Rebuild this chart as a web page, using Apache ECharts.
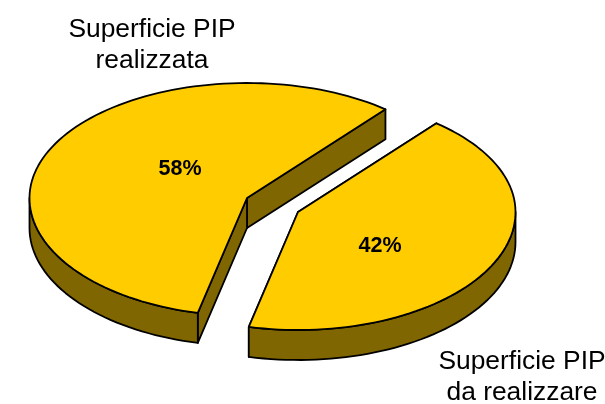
<!DOCTYPE html>
<html>
<head>
<meta charset="utf-8">
<script src="https://cdn.jsdelivr.net/npm/echarts@6/dist/echarts.min.js"></script>
<style>
html, body { margin: 0; padding: 0; background: #fff; }
#main { width: 605px; height: 404px; }
</style>
</head>
<body>
<div id="main"></div>
<script>
var categories = ['Superficie PIP\nrealizzata', 'Superficie PIP\nda realizzare'];
var values = [58, 42];

// layout of the flattened pie, per slice
var centers = [[247, 198], [298, 212]];
var percentPos = [[180, 168], [380, 245]];
var namePos = [[152, 45], [522, 377]];
var rx = 217.5, ryBack = 115, ryFront = 118, depth = 30;
var startAngle = 46;
var tilt = 1.17; // the 3d view squeezes angles a bit

var topColor = '#ffcc00';
var sideColor = '#806600';

var total = values.reduce(function (a, b) { return a + b; }, 0);

function tilted(deg) {
	var a = deg * Math.PI / 180;
	var t = Math.atan2(tilt * Math.sin(a), Math.cos(a)) * 180 / Math.PI;
	return t + 360 * Math.round((deg - t) / 360);
}

function arcPoints(c, from, to, dy) {
	var pts = [];
	var steps = Math.max(2, Math.ceil(Math.abs(to - from) / 2));
	for (var i = 0; i <= steps; i++) {
		var a = (from + (to - from) * i / steps) * Math.PI / 180;
		var s = Math.sin(a);
		pts.push([c[0] + rx * Math.cos(a), c[1] - (s > 0 ? ryBack : ryFront) * s + dy]);
	}
	return pts;
}

function wall(pts) {
	return {
		type: 'polygon',
		shape: { points: pts },
		style: { fill: sideColor, stroke: '#000', lineWidth: 1.8, lineJoin: 'round' }
	};
}

function renderSlice(params, api) {
	var idx = params.dataIndex;
	var c = centers[idx];
	var before = 0;
	for (var i = 0; i < idx; i++) before += values[i];
	var a0 = tilted(startAngle + before / total * 360);
	var a1 = tilted(startAngle + (before + api.value(1)) / total * 360);
	var children = [];

	// cut faces go down from the two straight edges
	[a0, a1].forEach(function (a) {
		var p = arcPoints(c, a, a, 0)[0];
		children.push(wall([c, p, [p[0], p[1] + depth], [c[0], c[1] + depth]]));
	});

	// outer wall, only the front half of the rim shows
	for (var k = 0; k <= 1; k++) {
		var lo = Math.max(a0, 180 + k * 360);
		var hi = Math.min(a1, 360 + k * 360);
		if (hi > lo) {
			children.push(wall(arcPoints(c, lo, hi, 0).concat(arcPoints(c, hi, lo, depth))));
		}
	}

	// top
	children.push({
		type: 'polygon',
		shape: { points: [c].concat(arcPoints(c, a0, a1, 0)) },
		style: { fill: topColor, stroke: '#000', lineWidth: 1.8, lineJoin: 'round' }
	});

	children.push({
		type: 'text',
		style: {
			x: percentPos[idx][0], y: percentPos[idx][1] + 1,
			text: api.value(1) + '%',
			fill: '#000', align: 'center', verticalAlign: 'middle',
			font: 'bold 21.5px "Liberation Sans", Arial, sans-serif'
		}
	});
	children.push({
		type: 'text',
		style: {
			x: namePos[idx][0], y: namePos[idx][1],
			text: categories[idx],
			fill: '#000', align: 'center', verticalAlign: 'middle', lineHeight: 31,
			font: '26.4px "Liberation Sans", Arial, sans-serif'
		}
	});
	return { type: 'group', children: children };
}

var myChart = echarts.init(document.getElementById('main'));
myChart.setOption({
	backgroundColor: '#fff',
	animation: false,
	series: [{
		type: 'custom',
		coordinateSystem: 'none',
		clip: false,
		renderItem: renderSlice,
		data: values.map(function (v, i) { return [i, v]; })
	}]
});
</script>
</body>
</html>
